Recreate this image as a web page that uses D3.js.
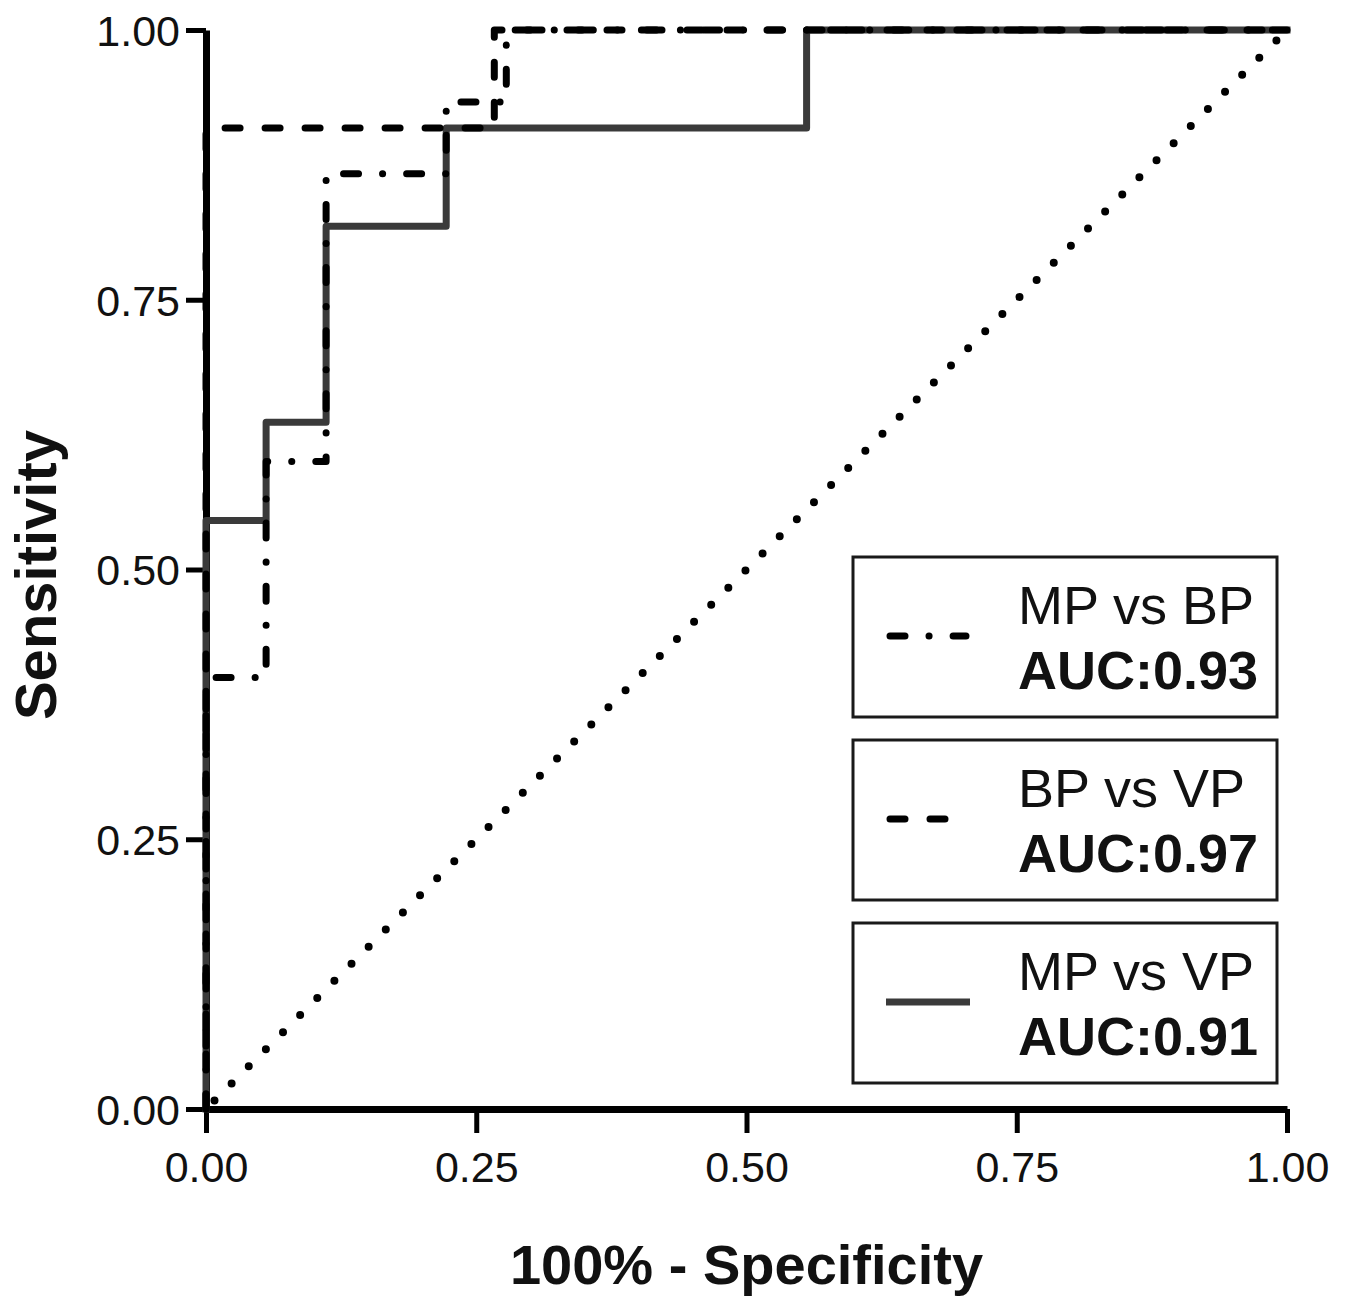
<!DOCTYPE html>
<html>
<head>
<meta charset="utf-8">
<script src="https://cdn.jsdelivr.net/npm/d3@7"></script>
<style>
  body { margin: 0; background: #fff; }
  text { font-family: "Liberation Sans", Arial, sans-serif; }
</style>
</head>
<body>
<script>
// ROC-kurvernes hjørnepunkter (1 - specificitet, sensitivitet)
const mpVsBpFpr = [0, 0, 0.0556, 0.0556, 0.1111, 0.1111, 0.2222, 0.2222, 0.2778, 0.2778, 1];
const mpVsBpTpr = [0, 0.4, 0.4, 0.6, 0.6, 0.8667, 0.8667, 0.9333, 0.9333, 1, 1];

const bpVsVpFpr = [0, 0, 0.2667, 0.2667, 1];
const bpVsVpTpr = [0, 0.9091, 0.9091, 1, 1];

const mpVsVpFpr = [0, 0, 0.0556, 0.0556, 0.1111, 0.1111, 0.2222, 0.2222, 0.5556, 0.5556, 1];
const mpVsVpTpr = [0, 0.5455, 0.5455, 0.6364, 0.6364, 0.8182, 0.8182, 0.9091, 0.9091, 1, 1];

// referencelinjen
const chanceFpr = [0, 1];
const chanceTpr = [0, 1];

const tickValues = [0, 0.25, 0.5, 0.75, 1];
const legendNames = ["MP vs BP", "BP vs VP", "MP vs VP"];
const legendAuc = ["AUC:0.93", "AUC:0.97", "AUC:0.91"];

const margin = { top: 30, left: 206 };
const width = 1081;
const height = 1079;

//SVG-elementet indsættes
const svg = d3
  .select("body")
  .append("svg")
  .attr("width", 1345)
  .attr("height", 1298);

const g = svg.append("g").attr("transform", `translate(${margin.left},${margin.top})`);

const x = d3.scaleLinear().domain([0, 1]).range([0, width]);
const y = d3.scaleLinear().domain([0, 1]).range([height, 0]);

// akserne
const xAxis = g
  .append("g")
  .attr("transform", `translate(0,${height})`)
  .call(d3.axisBottom(x).tickValues(tickValues).tickFormat(d3.format(".2f")).tickSize(24).tickSizeOuter(0).tickPadding(18));

const yAxis = g
  .append("g")
  .call(d3.axisLeft(y).tickValues(tickValues).tickFormat(d3.format(".2f")).tickSize(20).tickSizeOuter(0).tickPadding(6));

[xAxis, yAxis].forEach(a => {
  a.select(".domain").attr("stroke", "#000").attr("stroke-width", 7);
  a.selectAll(".tick line").attr("stroke", "#000").attr("stroke-width", 5);
  a.selectAll(".tick text")
    .attr("fill", "#111")
    .attr("font-size", 43)
    .attr("font-family", "Liberation Sans, Arial, sans-serif");
});
yAxis.selectAll(".tick text").attr("dy", "0.36em");

// aksetitler
svg
  .append("text")
  .attr("x", margin.left + x(0.5))
  .attr("y", 1284)
  .attr("text-anchor", "middle")
  .attr("font-size", 56)
  .attr("font-weight", "bold")
  .attr("fill", "#111")
  .text("100% - Specificity");

svg
  .append("text")
  .attr("transform", `translate(56,575) rotate(-90)`)
  .attr("text-anchor", "middle")
  .attr("font-size", 58)
  .attr("font-weight", "bold")
  .attr("fill", "#111")
  .text("Sensitivity");

const line = d3
  .line()
  .x(d => x(d[0]))
  .y(d => y(d[1]));

// referencelinjen med prikker
g.append("path")
  .datum(d3.zip(chanceFpr, chanceTpr))
  .attr("d", line)
  .attr("fill", "none")
  .attr("stroke", "#000")
  .attr("stroke-width", 8)
  .attr("stroke-linecap", "round")
  .attr("stroke-dasharray", "0 24.2")
  .attr("stroke-dashoffset", -12);

const series = [
  { fpr: mpVsVpFpr, tpr: mpVsVpTpr, color: "#3a3a3a", dash: null, cap: "square" },
  { fpr: mpVsBpFpr, tpr: mpVsBpTpr, color: "#000", dash: "15 24 0.1 24", cap: "round" },
  { fpr: bpVsVpFpr, tpr: bpVsVpTpr, color: "#000", dash: "15 25", cap: "round" }
];

series.forEach(s => {
  g.append("path")
    .datum(d3.zip(s.fpr, s.tpr))
    .attr("d", line)
    .attr("fill", "none")
    .attr("stroke", s.color)
    .attr("stroke-width", 7)
    .attr("stroke-linejoin", "round")
    .attr("stroke-linecap", s.cap)
    .attr("stroke-dasharray", s.dash);
});

// forklaring (legend) - tre kasser
const legendStyles = [
  { color: "#000", dash: "15 24 0.1 24" },
  { color: "#000", dash: "15 25 15 25 0.1 40" },
  { color: "#3a3a3a", dash: null }
];

legendNames.forEach((name, i) => {
  const top = 557 + i * 183;
  const lg = svg.append("g").attr("transform", `translate(853,${top})`);
  lg.append("rect")
    .attr("width", 424)
    .attr("height", 160)
    .attr("fill", "#fff")
    .attr("stroke", "#1a1a1a")
    .attr("stroke-width", 3);
  lg.append("line")
    .attr("x1", legendStyles[i].dash ? 37 : 33)
    .attr("x2", legendStyles[i].dash ? 113 : 117)
    .attr("y1", 79)
    .attr("y2", 79)
    .attr("stroke", legendStyles[i].color)
    .attr("stroke-width", 7)
    .attr("stroke-linecap", legendStyles[i].dash ? "round" : "butt")
    .attr("stroke-dasharray", legendStyles[i].dash);
  lg.append("text")
    .attr("x", 165)
    .attr("y", 67)
    .attr("font-size", 54)
    .attr("fill", "#111")
    .text(name);
  lg.append("text")
    .attr("x", 165)
    .attr("y", 132)
    .attr("font-size", 54)
    .attr("font-weight", "bold")
    .attr("fill", "#111")
    .text(legendAuc[i]);
});
</script>
</body>
</html>
